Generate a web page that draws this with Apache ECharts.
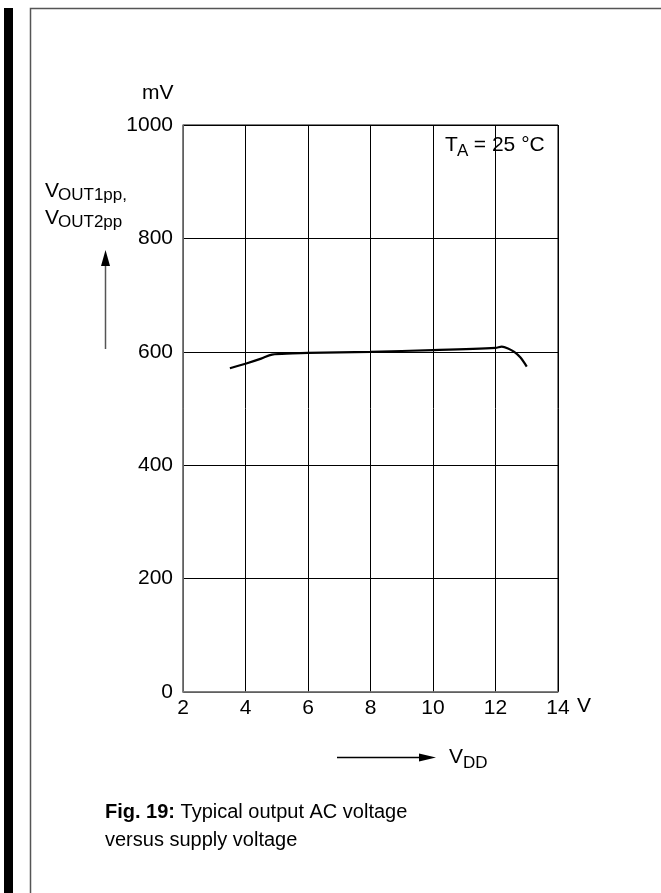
<!DOCTYPE html>
<html>
<head>
<meta charset="utf-8">
<script src="https://cdn.jsdelivr.net/npm/echarts@6/dist/echarts.min.js"></script>
<style>
  html, body { margin: 0; padding: 0; background: #fff; }
  #chart { width: 661px; height: 893px; }
</style>
</head>
<body>
<div id="chart"></div>
<script>
// Supply voltage V_DD (V) and peak-to-peak output voltage (mV), T_A = 25 °C
const vdd = [3.5, 4.0, 4.5, 4.85, 5.5, 6, 8, 10, 12, 12.2, 12.4, 12.6, 12.8, 13.0];
const voutPP = [571, 579, 588, 595, 597, 598, 600, 603, 607, 609, 606, 600, 590, 574];

const xTicks = { min: 2, max: 14, step: 2 };
const yTicks = { min: 0, max: 1000, step: 200 };

const FONT = 'Liberation Sans, Arial, sans-serif';
const FS = 21;   // main text size
const FSUB = 17; // subscript size
const FCAP = 20; // caption size

const chart = echarts.init(document.getElementById('chart'), null, { renderer: 'canvas' });

function txt(x, y, text, size, opts) {
  return Object.assign({
    type: 'text', x: x, y: y, z: 10,
    style: Object.assign({
      text: text, fontFamily: FONT, fontSize: size, fill: '#000',
      align: 'left', verticalAlign: 'middle'
    }, (opts && opts.style) || {})
  }, (opts && opts.el) || {});
}

chart.setOption({
  animation: false,
  backgroundColor: '#fff',
  grid: {
    left: 183, top: 125, width: 375, height: 567,
    show: true, borderColor: '#000', borderWidth: 1, backgroundColor: 'transparent'
  },
  xAxis: {
    type: 'value', min: xTicks.min, max: xTicks.max, interval: xTicks.step,
    axisLine: { show: true, lineStyle: { color: '#808080', width: 1.5 } },
    axisTick: { show: false },
    splitLine: { show: true, lineStyle: { color: '#000', width: 1 } },
    axisLabel: { color: '#000', fontFamily: FONT, fontSize: FS, margin: 6,
                 formatter: v => String(v) }
  },
  yAxis: {
    type: 'value', min: yTicks.min, max: yTicks.max, interval: yTicks.step,
    axisLine: { show: true, lineStyle: { color: '#808080', width: 1.5 } },
    axisTick: { show: false },
    splitLine: { show: true, lineStyle: { color: '#000', width: 1 } },
    axisLabel: { color: '#000', fontFamily: FONT, fontSize: FS, margin: 10,
                 formatter: v => String(v) }
  },
  series: [{
    type: 'line',
    data: vdd.map((v, i) => [v, voutPP[i]]),
    smooth: 0.3,
    showSymbol: false,
    lineStyle: { color: '#000', width: 2.2 },
    z: 5
  }],
  graphic: [
    // page frame and side bar
    { type: 'rect', shape: { x: 4, y: 8, width: 9, height: 900 }, style: { fill: '#000' } },
    { type: 'rect', shape: { x: 30.5, y: 8.5, width: 640, height: 900 },
      style: { fill: 'none', stroke: '#555', lineWidth: 1.5 } },

    // unit labels
    txt(142, 93, 'mV', FS),
    txt(577, 706, 'V', FS),

    // y-axis quantity
    txt(45, 191, 'V', FS),
    txt(58, 195, 'OUT1pp,', FSUB),
    txt(45, 218, 'V', FS),
    txt(58, 222, 'OUT2pp', FSUB),
    { type: 'line', shape: { x1: 105.5, y1: 262, x2: 105.5, y2: 349 },
      style: { stroke: '#555', lineWidth: 1.5 } },
    { type: 'polygon', shape: { points: [[105.5, 250], [101, 266], [110, 266]] },
      style: { fill: '#000' } },

    // x-axis quantity
    { type: 'line', shape: { x1: 337, y1: 757.5, x2: 424, y2: 757.5 },
      style: { stroke: '#000', lineWidth: 1.3 } },
    { type: 'polygon', shape: { points: [[436, 757.5], [419, 753.5], [419, 761.5]] },
      style: { fill: '#000' } },
    txt(449, 757, 'V', FS),
    txt(463, 763, 'DD', FSUB),

    // ambient temperature
    txt(445, 145.5, 'T', FS),
    txt(457, 151, 'A', FSUB),
    txt(468, 145.5, ' = 25 °C', FS),

    // caption
    {
      type: 'text', x: 105, y: 812, z: 10,
      style: {
        text: '{b|Fig. 19:} Typical output AC voltage',
        fontFamily: FONT, fontSize: FCAP, fill: '#000', verticalAlign: 'middle',
        rich: { b: { fontFamily: FONT, fontSize: FCAP, fontWeight: 'bold', fill: '#000' } }
      }
    },
    txt(105, 840, 'versus supply voltage', FCAP)
  ]
});
</script>
</body>
</html>
